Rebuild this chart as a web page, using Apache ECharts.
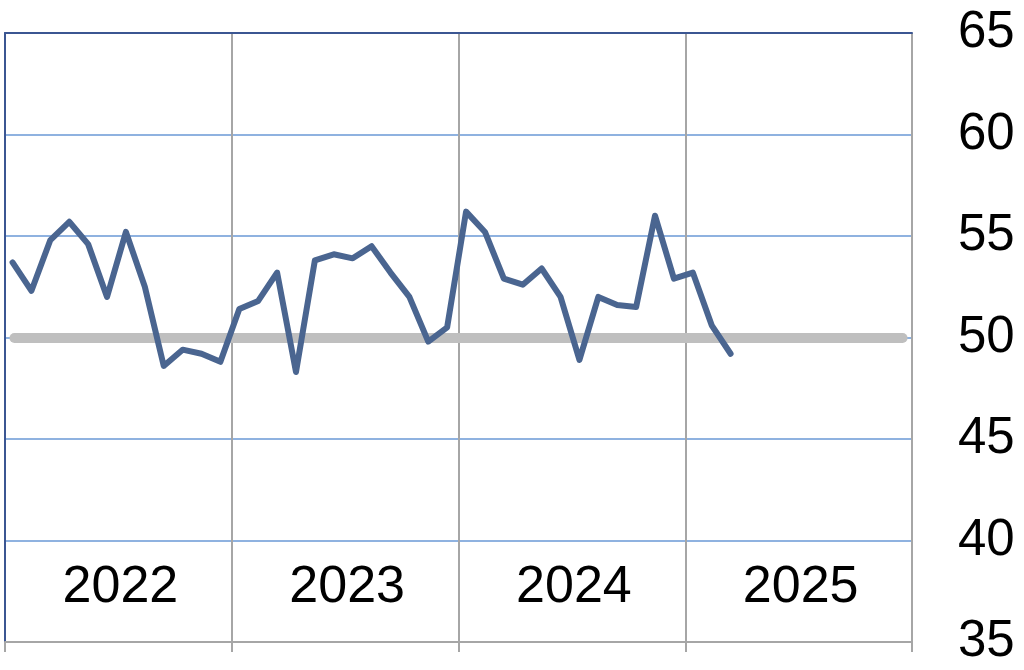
<!DOCTYPE html>
<html>
<head>
<meta charset="utf-8">
<script src="https://cdn.jsdelivr.net/npm/echarts@6/dist/echarts.min.js"></script>
<style>html,body{margin:0;padding:0;background:#fff;}#c{width:1024px;height:670px;}</style>
</head>
<body>
<div id="c"></div>
<script>
// Monthly index values, Jan 2022 .. Mar 2025
var startYear = 2022;
var values = [53.7, 52.3, 54.8, 55.7, 54.6, 52.0, 55.2, 52.5, 48.6, 49.4, 49.2, 48.8,
              51.4, 51.8, 53.2, 48.3, 53.8, 54.1, 53.9, 54.5, 53.2, 52.0, 49.8, 50.5,
              56.2, 55.2, 52.9, 52.6, 53.4, 52.0, 48.9, 52.0, 51.6, 51.5, 56.0, 52.9,
              53.2, 50.6, 49.2];
var yearLabels = ['2022', '2023', '2024', '2025'];
var yTicks = [35, 40, 45, 50, 55, 60, 65];
var referenceLevel = 50;

var monthOffset = 0.4; // position of each monthly observation within its month
var seriesData = values.map(function (v, i) { return [i + monthOffset, v]; });
var nMonths = yearLabels.length * 12;

var chart = echarts.init(document.getElementById('c'), null, {renderer: 'canvas'});
var font = '"Liberation Sans", Arial, sans-serif';
chart.setOption({
  animation: false,
  backgroundColor: '#ffffff',
  grid: {left: 5, right: 112, top: 33, bottom: 28, containLabel: false},
  xAxis: [
    {
      type: 'value', min: 0, max: nMonths, interval: 12, position: 'bottom',
      axisLine: {show: true, lineStyle: {color: '#a6a6a6', width: 2}},
      axisTick: {show: true, length: 10, lineStyle: {color: '#a6a6a6', width: 2}},
      axisLabel: {show: false},
      splitLine: {show: true, lineStyle: {color: '#a6a6a6', width: 2}}
    },
    {
      type: 'category', data: yearLabels, boundaryGap: true, position: 'bottom', offset: -54,
      axisLine: {show: false}, axisTick: {show: false}, splitLine: {show: false},
      axisLabel: {show: true, fontSize: 52, fontFamily: font, color: '#000',
                  margin: 0, verticalAlign: 'middle', padding: [0, 0, 0, 4]}
    },
    {
      type: 'value', min: 0, max: nMonths, position: 'top',
      axisLine: {show: true, lineStyle: {color: '#3b5692', width: 2}},
      axisTick: {show: false}, axisLabel: {show: false}, splitLine: {show: false}
    }
  ],
  yAxis: {
    type: 'value', position: 'right', min: yTicks[0], max: yTicks[yTicks.length - 1], interval: 5,
    axisLine: {show: true, lineStyle: {color: '#3b5692', width: 2}},
    axisTick: {show: false},
    axisLabel: {show: true, fontSize: 51, fontFamily: font, color: '#000', margin: 46},
    splitLine: {show: true, lineStyle: {color: '#6a98d6', width: 1.5}}
  },
  series: [
    {
      type: 'line', xAxisIndex: 0, data: seriesData, symbol: 'none', smooth: false,
      lineStyle: {color: '#4a6590', width: 6, join: 'round', cap: 'round'},
      z: 5,
      markLine: {
        silent: true, symbol: 'none', label: {show: false},
        lineStyle: {color: '#bfbfbf', width: 10, type: 'solid', cap: 'round'},
        data: [[{coord: [0.5, referenceLevel]}, {coord: [nMonths - 0.5, referenceLevel]}]],
        z: 3
      }
    }
  ]
});
</script>
</body>
</html>
